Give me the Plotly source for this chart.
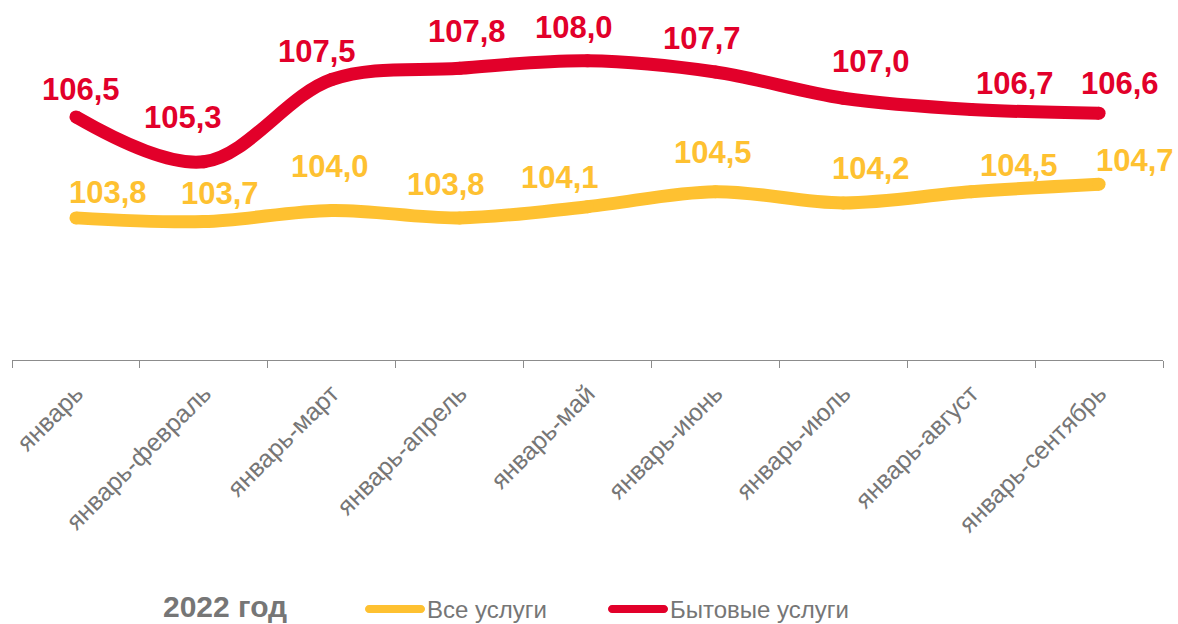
import plotly.graph_objects as go

categories = ["январь", "январь-февраль", "январь-март", "январь-апрель", "январь-май",
              "январь-июнь", "январь-июль", "январь-август", "январь-сентябрь"]
all_services = [103.8, 103.7, 104.0, 103.8, 104.1, 104.5, 104.2, 104.5, 104.7]
household_services = [106.5, 105.3, 107.5, 107.8, 108.0, 107.7, 107.0, 106.7, 106.6]

series_names = ["Все услуги", "Бытовые услуги"]
legend_title = "2022 год"

# label offsets (px) relative to each point: (dx, dy upward)
yellow_label_offsets = [(32, 25), (16, 28), (-2, 44), (-14, 33), (-28, 29), (-2, 39), (28, 34), (48, 26), (36, 24)]
red_label_offsets = [(5, 27), (-21, 44), (-15, 28), (7, 37), (-14, 33), (-13, 34), (28, 37), (44, 26), (21, 30)]

YELLOW = "#FEC131"
RED = "#E2002A"
GREY = "#767676"
FONT = "Liberation Sans, Arial, sans-serif"
COLORS = [YELLOW, RED]

fig = go.Figure()
for name, vals, color in zip(series_names, [all_services, household_services], COLORS):
    fig.add_trace(go.Scatter(
        x=categories, y=vals, name=name, mode="lines+markers",
        line=dict(color=color, width=13, shape="spline", smoothing=1),
        marker=dict(color=color, size=13),
        hoverinfo="skip", showlegend=False,
    ))


def fmt(v):
    return f"{v:.1f}".replace(".", ",")

annotations = []
for vals, offs, color in zip([all_services, household_services],
                             [yellow_label_offsets, red_label_offsets], COLORS):
    for c, v, (dx, dy) in zip(categories, vals, offs):
        annotations.append(dict(
            x=c, y=v, xref="x", yref="y", text=f"<b>{fmt(v)}</b>", showarrow=False,
            xanchor="center", yanchor="middle", xshift=dx, yshift=dy,
            font=dict(family=FONT, size=31, color=color),
        ))

# manual legend (plot area: x 12..1163 px, y 0..360 px)
PL, PW, PH = 12, 1151, 360
def px_x(p):
    return (p - PL) / PW
def px_y(p):
    return (PH - p) / PH

LEG_Y = 609
annotations.append(dict(
    x=px_x(161), y=px_y(606), xref="paper", yref="paper", xanchor="left", yanchor="middle",
    text=f"<b>{legend_title}</b>", showarrow=False,
    font=dict(family=FONT, size=30, color=GREY),
))
shapes = []
legend_sample_x = [395, 638]
legend_text_x = [425, 668]
pill = ("M-26,-4 L26,-4 C28.2,-4 30,-2.2 30,0 C30,2.2 28.2,4 26,4 "
        "L-26,4 C-28.2,4 -30,2.2 -30,0 C-30,-2.2 -28.2,-4 -26,-4 Z")
for name, color, sx, tx in zip(series_names, COLORS, legend_sample_x, legend_text_x):
    shapes.append(dict(
        type="path", xref="paper", yref="paper", xsizemode="pixel", ysizemode="pixel",
        xanchor=px_x(sx), yanchor=px_y(LEG_Y), path=pill,
        fillcolor=color, line=dict(width=0),
    ))
    annotations.append(dict(
        x=px_x(tx), y=px_y(LEG_Y), xref="paper", yref="paper", xanchor="left", yanchor="middle",
        text=name, showarrow=False, font=dict(family=FONT, size=24, color=GREY),
    ))

fig.update_layout(
    width=1178, height=624,
    margin=dict(l=12, r=15, t=0, b=264),
    paper_bgcolor="white", plot_bgcolor="white",
    showlegend=False,
    annotations=annotations,
    shapes=shapes,
    font=dict(family=FONT, color=GREY),
)
fig.update_xaxes(
    type="category", showline=True, linecolor="#8C8C8C", linewidth=1,
    ticks="outside", ticklen=7, tickcolor="#8C8C8C", tickson="boundaries",
    tickangle=-45, tickfont=dict(family=FONT, size=25, color=GREY),
    ticklabelstandoff=8, automargin=False,
    showgrid=False, zeroline=False, range=[-0.5, 8.5],
)
fig.update_yaxes(
    range=[100, 100 + 360 / 37.4], showgrid=False, zeroline=False,
    showticklabels=False, showline=False, automargin=False,
)

fig.write_html("out.html", config={"displayModeBar": False},
               post_script="document.body.style.margin='0';")
